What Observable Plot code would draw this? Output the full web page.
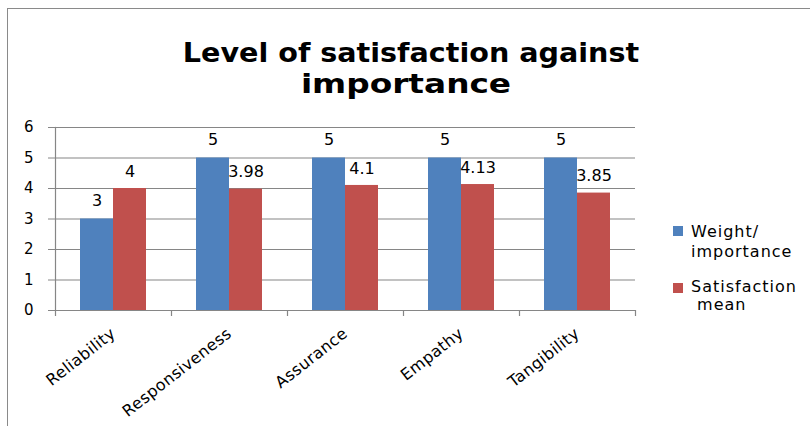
<!DOCTYPE html>
<html>
<head>
<meta charset="utf-8">
<script src="https://cdn.jsdelivr.net/npm/d3@7"></script>
<script src="https://cdn.jsdelivr.net/npm/@observablehq/plot@0.6"></script>
<style>
  html, body { margin: 0; padding: 0; background: #fff; }
  #wrap { position: relative; width: 810px; height: 426px; overflow: hidden; font-family: "DejaVu Sans", sans-serif; }
  #wrap svg { position: absolute; left: 0; top: 0; }
  #wrap svg g[aria-label="x-axis tick label"] text { letter-spacing: 0.4px; }
  .title { position: absolute; left: 0; width: 810px; text-align: center; font-family: "DejaVu Sans", sans-serif; font-weight: bold; font-size: 26px; color: #000; line-height: 30px; white-space: nowrap; }
  .border-top { position: absolute; left: 7px; top: 8px; width: 803px; height: 0; border-top: 1.5px solid #8a8a8a; }
  .border-left { position: absolute; left: 7px; top: 8px; width: 0; height: 418px; border-left: 1.5px solid #8a8a8a; }
  .legend { position: absolute; left: 673px; font-size: 16px; letter-spacing: 1px; color: #000; line-height: 20px; }
  .legend .sw { position: absolute; left: 0; width: 10px; height: 10px; }
  .legend .txt { position: absolute; left: 18px; white-space: nowrap; }
</style>
</head>
<body>
<div id="wrap">
  <div class="border-top"></div>
  <div class="border-left"></div>
  <div id="titlebox"></div>
  <div id="legend"></div>
</div>
<script>
const titleLines = ["Level of satisfaction against", "importance"];
const categories = ["Reliability", "Responsiveness", "Assurance", "Empathy", "Tangibility"];
const weightImportance = [3, 5, 5, 5, 5];
const satisfactionMean = [4, 3.98, 4.1, 4.13, 3.85];
const seriesNames = ["Weight/\nimportance", "Satisfaction\n mean"];
const seriesColors = ["#4F81BD", "#C0504D"];
const yTicks = [0, 1, 2, 3, 4, 5, 6];

const data = categories.map((c, i) => ({cat: c, w: weightImportance[i], s: satisfactionMean[i]}));

// title lines (layout only)
const titleTops = [38, 69];
const titleCenters = [411, 406];
const titleScales = [1.10, 1.26];
const titlebox = document.getElementById("titlebox");
titleLines.forEach((line, i) => {
  const d = document.createElement("div");
  d.className = "title";
  d.textContent = line;
  d.style.top = titleTops[i] + "px";
  d.style.left = (titleCenters[i] - 405) + "px";
  d.style.transform = `scaleX(${titleScales[i]})`;
  d.style.transformOrigin = "50% 50%";
  titlebox.appendChild(d);
});

const legend = document.getElementById("legend");
const legendTops = [226, 283];
const legendTextOffsets = [-4.5, -5.5];
seriesNames.forEach((name, i) => {
  const item = document.createElement("div");
  item.className = "legend";
  item.style.top = legendTops[i] + "px";
  const sw = document.createElement("div");
  sw.className = "sw";
  sw.style.background = seriesColors[i];
  sw.style.top = "0px";
  const txt = document.createElement("div");
  txt.className = "txt";
  txt.style.top = legendTextOffsets[i] + "px";
  if (i === 1) txt.style.lineHeight = "18px";
  txt.innerHTML = name.split("\n").map(s => s.replace(/^ /, "&nbsp;")).join("<br>");
  item.appendChild(sw);
  item.appendChild(txt);
  legend.appendChild(item);
});

const half = 58;
const chart = Plot.plot({
  width: 810,
  height: 426,
  marginLeft: 55,
  marginRight: 175,
  marginTop: 127,
  marginBottom: 116,
  style: {fontFamily: "DejaVu Sans, sans-serif", fontSize: "15px", color: "#000", background: "transparent", overflow: "visible"},
  x: {type: "band", domain: categories, padding: 0, axis: null},
  y: {domain: [0, 6], axis: null},
  marks: [
    Plot.ruleY(yTicks, {stroke: "#868686", strokeWidth: 1.2}),
    Plot.barY(data, {x: "cat", y: "w", fill: seriesColors[0], insetLeft: 25, insetRight: 58}),
    Plot.barY(data, {x: "cat", y: "s", fill: seriesColors[1], insetLeft: 58, insetRight: 25}),
    Plot.ruleY([0], {stroke: "#868686", strokeWidth: 1.2}),
    Plot.frame({anchor: "left", stroke: "#868686", strokeWidth: 1.2}),
    Plot.axisY({ticks: yTicks, tickSize: 7, tickPadding: 15, stroke: "#868686", fontSize: 15, fill: "#000", tickFormat: d => String(d)}),
    Plot.ruleX(categories, {x: d => d, dx: -half, y1: 0, y2: 0, insetBottom: -6, stroke: "#868686", strokeWidth: 1.2}),
    Plot.ruleX([categories[categories.length - 1]], {x: d => d, dx: half, y1: 0, y2: 0, insetBottom: -6, stroke: "#868686", strokeWidth: 1.2}),
    Plot.axisX({tickSize: 0, tickRotate: -38, tickPadding: 21, fontSize: 16, fill: "#000", label: null}),
    Plot.text(data, {x: "cat", y: "w", text: d => String(d.w), dx: -16.5, dy: -18, fontSize: 16, fill: "#000"}),
    Plot.text(data, {x: "cat", y: "s", text: d => String(d.s), dx: 16.5, dy: -17, fontSize: 16, fill: "#000"})
  ]
});
document.getElementById("wrap").insertBefore(chart, document.getElementById("titlebox"));
</script>
</body>
</html>
